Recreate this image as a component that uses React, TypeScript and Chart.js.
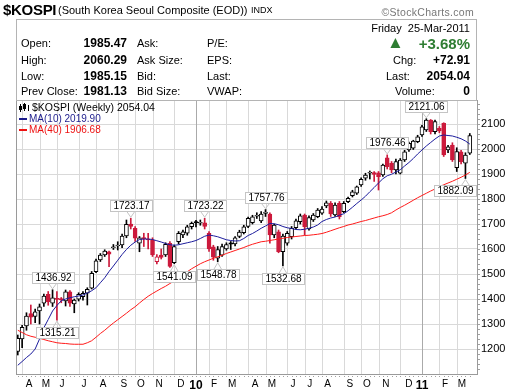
import React, { useEffect, useRef } from 'react';
import { Chart, registerables } from 'chart.js';
Chart.register(...registerables);

// ---- weekly OHLC, week ending 27-Mar-2009 ... 25-Mar-2011 ----
const opens = [1190,1240,1292,1342,1330,1352,1383,1419,1383,1403,1402,1392,1429,1380,1399,1409,1423,1443,1509,1556,1576,1589,1605,1612,1616,1652,1700,1683,1623,1646,1640,1636,1549,1576,1576,1623,1545,1629,1656,1663,1689,1710,1703,1705,1663,1609,1563,1575,1600,1625,1620,1650,1665,1690,1705,1731,1712,1742,1740,1656,1669,1589,1623,1649,1685,1709,1736,1680,1716,1729,1743,1772,1783,1736,1783,1749,1789,1813,1823,1856,1883,1903,1906,1905,1896,1965,1943,1916,1903,1956,1996,2003,2029,2056,2076,2116,2069,2083,2103,1996,2016,1925,1989,1943,1983];
const highs = [1256,1295,1345,1376,1360,1380,1420,1430,1436.92,1430,1406,1436,1434,1400,1425,1430,1445,1510,1560,1582,1597,1592,1618,1629,1660,1716,1723.17,1690,1650,1663,1663,1645,1578,1600,1625,1630,1616,1670,1676,1695,1708,1715,1716,1723.22,1670,1615,1610,1620,1625,1630,1650,1675,1695,1728,1735,1745,1750,1757.76,1745,1700,1676,1660,1670,1690,1720,1740,1740,1733,1742,1762,1770,1792,1790,1785,1790,1790,1808,1835,1852,1885,1903,1912,1910,1910,1940,1976.46,1950,1960,1962,1995,2028,2035,2055,2095,2121.06,2118,2116,2090,2105,2015,2025,2005,1995,1985,2062];
const lows = [1176,1205,1275,1300,1305,1300,1370,1375,1370,1315.21,1385,1372,1370,1345,1392,1395,1376,1440,1505,1550,1570,1529,1598,1596,1605,1645,1680,1630,1589,1610,1600,1570,1540,1560,1570,1526,1541.09,1620,1645,1655,1680,1688,1695,1680,1590,1555,1548.78,1570,1595,1598,1612,1645,1660,1685,1700,1722,1705,1730,1623,1645,1585,1532.68,1615,1640,1680,1700,1656,1675,1710,1725,1738,1765,1730,1730,1720,1745,1785,1808,1818,1850,1875,1880,1870,1836,1890,1920,1905,1900,1900,1950,1990,1998,2025,2050,2070,2060,2060,2065,1970,1985,1950,1910,1940,1882.09,1978];
const closes = [1243,1287,1332,1327,1349,1369,1412,1389,1405,1398,1396,1429,1383,1396,1419,1423,1439,1503,1553,1576,1592,1579,1609,1616,1652,1699,1690,1643,1645,1641,1636,1576,1569,1566,1619,1530,1610,1663,1669,1689,1703,1704,1707,1690,1600,1567,1598,1610,1618,1619,1645,1668,1689,1723,1729,1735,1740,1748,1656,1696,1589,1652,1663,1683,1713,1733,1689,1726,1736,1756,1760,1785,1740,1776,1729,1783,1803,1829,1849,1879,1896,1906,1898,1889,1936,1929,1916,1950,1956,1989,2023,2032,2049,2089,2116,2069,2110,2072,1976,2009,1956,1990,1949,1976,2054.04];
const ma10 = [1135,1150,1166,1180,1200,1240,1285,1318,1352,1374,1393,1400,1405,1409,1412,1416,1424,1433,1445,1465,1485,1510,1532,1555,1578,1598,1615,1628,1638,1640,1640,1638,1633,1628,1622,1617,1615,1617,1621,1625,1629,1634,1642,1651,1656,1653,1649,1643,1637,1634,1632,1633,1642,1654,1662,1672,1683,1692,1702,1701,1697,1690,1685,1682,1678,1677,1679,1683,1688,1696,1710,1718,1724,1728,1735,1741,1753,1767,1782,1796,1811,1829,1846,1864,1881,1893,1899,1908,1917,1932,1946,1962,1980,1996,2012,2026,2040,2052,2056,2054,2052,2047,2041,2032,2019.9];
const ma40 = [1275,1266,1257,1251,1247,1243,1238,1233,1229,1225,1223,1222,1220,1219,1219,1219,1225,1233,1247,1262,1275,1290,1304,1317,1330,1343,1357,1369,1384,1398,1411,1422,1432,1442,1451,1462,1472,1484,1497,1509,1521,1531,1541,1549,1556,1563,1569,1575,1582,1588,1594,1600,1606,1613,1619,1624,1629,1631,1634,1637,1640,1643,1646,1648,1650,1652,1654,1655,1657,1659,1662,1667,1673,1679,1685,1690,1696,1700,1705,1710,1714,1719,1724,1729,1733,1738,1745,1756,1766,1775,1785,1795,1805,1814,1823,1832,1840,1849,1857,1864,1871,1879,1887,1896,1906.68];

const yTicks = [1200,1300,1400,1500,1600,1700,1800,1900,2000,2100];
const xLabels = ['A','M','J','J','A','S','O','N','D','10','F','M','A','M','J','J','A','S','O','N','D','11','F','M'];
const xLabelPos = [2.58,6.49,10.17,15.23,19.6,24.4,28.35,32.5,37.55,41,45.15,49.3,54.6,58.5,63.3,67.2,71.3,76.4,80.3,84.7,90,93,98.3,102.2];
const monthGrid = [1,5,9,14,18,23,27,31,36,41,44,48,53,57,62,66,70,75,79,83,88,93,97,101];
const yearGrid = [41,93];
const annIdx = [8,9,26,36,43,46,57,61,85,94,103];
const annVal = [1436.92,1315.21,1723.17,1541.09,1723.22,1548.78,1757.76,1532.68,1976.46,2121.06,1882.09];
const annSide = ['up','down','up','down','up','down','up','down','up','up','down'];

const RED = '#cc1a3c';
const FONT = '"Liberation Sans", Arial, sans-serif';

const candleColor = closes.map((c, i) => (c < (i > 0 ? closes[i - 1] : opens[i]) ? RED : '#000000'));
const bodyFill = closes.map((c, i) => (c < opens[i] ? candleColor[i] : '#ffffff'));

const deco = {
  id: 'deco',
  beforeDatasetsDraw(chart: any) {
    const { ctx, chartArea, scales } = chart;
    const xs = scales.x;
    ctx.save();
    ctx.lineWidth = 1;
    monthGrid.forEach((g) => {
      const px = Math.round(xs.getPixelForValue(g)) + 0.5;
      ctx.strokeStyle = yearGrid.includes(g) ? '#aaaaaa' : '#d9d9d9';
      ctx.beginPath();
      ctx.moveTo(px, chartArea.top);
      ctx.lineTo(px, chartArea.bottom);
      ctx.stroke();
    });
    ctx.restore();
  },
  afterDatasetsDraw(chart: any) {
    const { ctx, chartArea, scales } = chart;
    const xs = scales.x;
    const ys = scales.y;
    const { left, right, top, bottom } = chartArea;
    ctx.save();
    // frame
    ctx.strokeStyle = '#9a9a9a';
    ctx.lineWidth = 1;
    ctx.strokeRect(Math.round(left) + 0.5, Math.round(top) + 0.5, Math.round(right - left), Math.round(bottom - top));
    // minor ticks on axes
    ctx.fillStyle = '#a0a0a0';
    for (let v = 1120; v < 2190; v += 20) {
      const py = Math.round(ys.getPixelForValue(v));
      ctx.fillRect(Math.round(right) + 1, py, 2, 1);
    }
    for (let i = 0; i < closes.length; i++) {
      const px = Math.round(xs.getPixelForValue(i));
      ctx.fillRect(px, Math.round(bottom) + 2, 1, 1);
    }
    // annotations
    ctx.font = '10px ' + FONT;
    ctx.textBaseline = 'middle';
    ctx.textAlign = 'center';
    annIdx.forEach((idx, k) => {
      const txt = annVal[k].toFixed(2);
      const px = xs.getPixelForValue(idx);
      const py = ys.getPixelForValue(annVal[k]);
      const w = Math.ceil(ctx.measureText(txt).width) + 5;
      const h = 11;
      let bx = Math.round(px - w / 2);
      if (bx + w > right - 1) bx = Math.round(right - 1 - w);
      let tip, by;
      if (annSide[k] === 'up') {
        tip = py - 1;
        by = Math.round(tip - 6 - h);
      } else {
        tip = py + 1;
        by = Math.round(tip + 6);
      }
      ctx.fillStyle = '#ffffff';
      ctx.strokeStyle = '#c4c4c4';
      ctx.beginPath();
      const baseY = annSide[k] === 'up' ? by + h + 0.5 : by + 0.5;
      ctx.moveTo(px - 4, baseY);
      ctx.lineTo(px, tip);
      ctx.lineTo(px + 4, baseY);
      ctx.stroke();
      ctx.fillRect(bx, by, w, h);
      ctx.strokeRect(bx + 0.5, by + 0.5, w, h);
      ctx.fillStyle = '#000000';
      ctx.fillText(txt, bx + w / 2 + 0.5, by + h / 2 + 1);
    });
    // legend
    const lx = left + 3;
    ctx.textAlign = 'left';
    ctx.font = '10.5px ' + FONT;
    ctx.fillStyle = '#000';
    ctx.fillRect(lx + 1, top + 4, 1, 8);
    ctx.fillRect(lx, top + 6, 3, 4);
    ctx.fillRect(lx + 5, top + 3, 1, 8);
    ctx.strokeStyle = '#000';
    ctx.strokeRect(lx + 4.5, top + 4.5, 2, 4);
    ctx.fillRect(lx + 9, top + 5, 1, 6);
    ctx.fillText('$KOSPI (Weekly) 2054.04', lx + 13, top + 8);
    ctx.fillStyle = '#1c1c8c';
    ctx.fillRect(lx, top + 18, 8, 2);
    ctx.font = '10px ' + FONT;
    ctx.fillText('MA(10) 2019.90', lx + 10, top + 19);
    ctx.fillStyle = '#ee1111';
    ctx.fillRect(lx, top + 29, 8, 2);
    ctx.fillText('MA(40) 1906.68', lx + 10, top + 30);
    ctx.restore();
  },
};

function T(props: any) {
  const { x, y, size = 11, bold = false, color = '#000', align = 'left', children, ls } = props;
  const w = 200;
  const style: any = {
    position: 'absolute',
    top: y - size / 2,
    fontSize: size,
    lineHeight: size + 'px',
    fontWeight: bold ? 'bold' : 'normal',
    color,
    whiteSpace: 'nowrap',
    fontFamily: FONT,
    letterSpacing: ls,
  };
  if (align === 'right') {
    style.left = x - w;
    style.width = w;
    style.textAlign = 'right';
  } else {
    style.left = x;
  }
  return <div style={style}>{children}</div>;
}

export default function App() {
  const ref = useRef<HTMLCanvasElement>(null);
  useEffect(() => {
    const canvas = ref.current;
    if (!canvas) return;
    const chart = new Chart(canvas, {
      type: 'bar',
      data: {
        datasets: [
          {
            type: 'line',
            label: 'MA(10)',
            data: ma10.map((v, i) => ({ x: i, y: v })),
            borderColor: '#1c1c9c',
            borderWidth: 1,
            pointRadius: 0,
            order: 0,
          } as any,
          {
            type: 'line',
            label: 'MA(40)',
            data: ma40.map((v, i) => ({ x: i, y: v })),
            borderColor: '#ff1a1a',
            borderWidth: 1,
            pointRadius: 0,
            order: 0,
          } as any,
          {
            type: 'bar',
            label: 'body',
            data: opens.map((o, i) => ({ x: i, y: [o, closes[i]] })),
            backgroundColor: bodyFill,
            borderColor: candleColor,
            borderWidth: 1,
            borderSkipped: false,
            barThickness: 4,
            minBarLength: 1,
            grouped: false,
            order: 1,
          } as any,
          {
            type: 'bar',
            label: 'wick',
            data: lows.map((l, i) => ({ x: i, y: [l, highs[i]] })),
            backgroundColor: candleColor,
            borderWidth: 0,
            barThickness: 1,
            grouped: false,
            order: 2,
          } as any,
        ],
      },
      options: {
        animation: false,
        responsive: false,
        maintainAspectRatio: false,
        layout: { padding: { left: 16, top: 100, right: 0, bottom: 0 } },
        plugins: { legend: { display: false }, tooltip: { enabled: false } },
        scales: {
          x: {
            type: 'linear',
            min: -0.41,
            max: 105.66,
            offset: false,
            grid: { display: false, offset: false, drawTicks: false },
            border: { display: false },
            afterBuildTicks: (s: any) => {
              s.ticks = xLabelPos.map((v) => ({ value: v }));
            },
            afterFit: (s: any) => {
              s.height = 17;
            },
            ticks: {
              autoSkip: false,
              maxRotation: 0,
              padding: 4,
              color: '#000',
              callback: (_v: any, i: number) => xLabels[i],
              font: (c: any) => {
                const lab = xLabels[c.index] || '';
                return lab.length > 1
                  ? { family: FONT, size: 12, weight: 'bold' }
                  : { family: FONT, size: 10, weight: 'normal' };
              },
            },
          },
          y: {
            position: 'right',
            min: 1100,
            max: 2196,
            afterBuildTicks: (s: any) => {
              s.ticks = yTicks.map((v) => ({ value: v }));
            },
            afterFit: (s: any) => {
              s.width = 43;
            },
            grid: { color: '#d9d9d9', drawTicks: false },
            border: { display: false },
            ticks: {
              padding: 4,
              color: '#000',
              font: { family: FONT, size: 11 },
              callback: (v: any) => String(v),
            },
          },
        },
      } as any,
      plugins: [deco],
    });
    return () => chart.destroy();
  }, []);

  return (
    <div style={{ position: 'absolute', left: 0, top: 0, width: 520, height: 391, background: '#fff', overflow: 'hidden' }}>
      <canvas ref={ref} width={520} height={391} style={{ position: 'absolute', left: 0, top: 0, width: 520, height: 391 }} />
      <T x={3} y={9} size={15} bold ls={-0.3}>$KOSPI</T>
      <T x={58} y={10} size={11}>(South Korea Seoul Composite (EOD))</T>
      <T x={251} y={10} size={9}>INDX</T>
      <T x={474} y={12} size={10.5} color="#777" align="right" ls={0.3}>©StockCharts.com</T>
      <div style={{ position: 'absolute', left: 16, top: 19, width: 461, height: 82, boxSizing: 'border-box', border: '1px solid #b4b4b4' }} />
      <T x={470} y={28} size={11} align="right">Friday&nbsp;&nbsp;25-Mar-2011</T>
      <T x={21} y={43}>Open:</T>
      <T x={21} y={60}>High:</T>
      <T x={21} y={76}>Low:</T>
      <T x={21} y={91}>Prev Close:</T>
      <T x={127} y={43} size={12} bold align="right">1985.47</T>
      <T x={127} y={60} size={12} bold align="right">2060.29</T>
      <T x={127} y={76} size={12} bold align="right">1985.15</T>
      <T x={127} y={91} size={12} bold align="right">1981.13</T>
      <T x={137} y={43}>Ask:</T>
      <T x={137} y={60}>Ask Size:</T>
      <T x={137} y={76}>Bid:</T>
      <T x={137} y={91}>Bid Size:</T>
      <T x={207} y={43}>P/E:</T>
      <T x={207} y={60}>EPS:</T>
      <T x={207} y={76}>Last:</T>
      <T x={207} y={91}>VWAP:</T>
      <T x={387} y={42} size={17} color="#2e7d32">▲</T>
      <T x={470} y={43} size={15} bold color="#2e7d32" align="right">+3.68%</T>
      <T x={393} y={60}>Chg:</T>
      <T x={470} y={60} size={12} bold align="right">+72.91</T>
      <T x={386} y={76}>Last:</T>
      <T x={470} y={76} size={12} bold align="right">2054.04</T>
      <T x={395} y={91}>Volume:</T>
      <T x={470} y={91} size={12} bold align="right">0</T>
    </div>
  );
}
